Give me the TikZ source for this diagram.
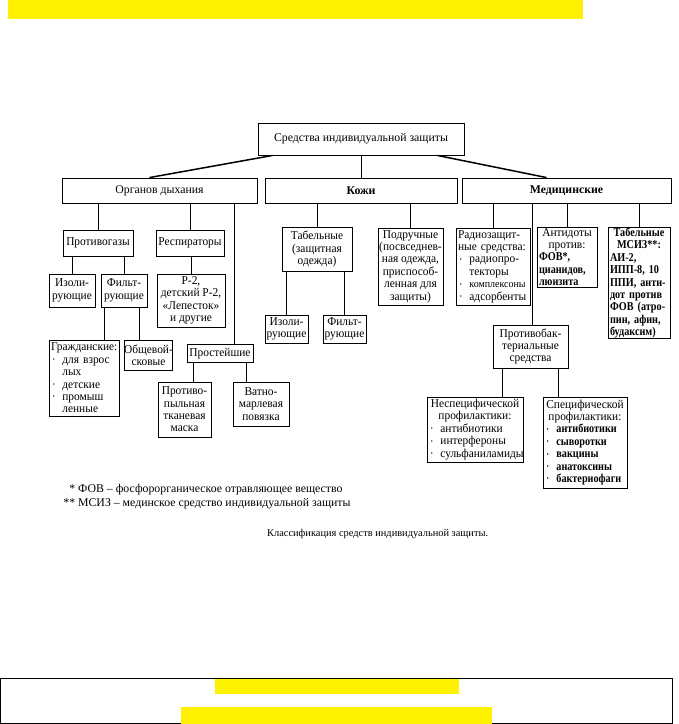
\documentclass[tikz,border=0pt]{standalone}
\usepackage{fontspec}
\setmainfont{Liberation Serif}
\newfontfamily\boxfont{Liberation Serif}[FakeStretch=0.95]
\newfontfamily\condfont{Liberation Serif}[FakeStretch=0.85]
\usetikzlibrary{positioning}
\newcommand{\boxtext}{\boxfont\fontsize{12}{12.4}\selectfont}
\newcommand{\ctr}[1]{\makebox[\linewidth]{#1}}
\newcommand{\bul}{\makebox[0.95em][l]{\hspace{.15em}\raisebox{.3ex}{\scalebox{.5}{\textbullet}}}}
\newcommand{\ind}{\hspace*{0.95em}}

\tikzset{
  box/.style 2 args={draw, line width=0.9pt, inner sep=0pt, align=center, minimum width=#1, minimum height=#2, font=\boxtext},
  lbox/.style 2 args={draw, line width=0.9pt, inner xsep=2pt, inner ysep=0pt, align=left, text width=#1, minimum height=#2, font=\boxtext},
  head/.style 2 args={box={#1}{#2}, font=\fontsize{11.8}{13}\selectfont},
  link/.style={line width=0.9pt},
  slant/.style={line width=1.5pt},
  note/.style={anchor=base west, inner sep=0pt, font=\fontsize{11.8}{13}\selectfont}
}

\begin{document}
\begin{tikzpicture}[x=1pt, y=-1pt]
    \useasboundingbox (0,0) rectangle (679,724);
    \fill[yellow] (8,0) rectangle (583,19);

    \node[head={206pt}{32pt}] at (361,139) (SIZ) {Средства индивидуальной защиты};
    \node[head={195pt}{25pt}] at (159.5,190.5) (ORG) {Органов дыхания};
    \node[head={192pt}{25pt}] at (361,190.5) (KOZ) {\bfseries Кожи};
    \node[head={209pt}{25pt}] at (566.5,190.5) (MED) {\bfseries Медицинские};

    \node[box={70pt}{26pt}] at (98,243) (PG) {Противогазы};
    \node[box={68pt}{26pt}] at (190,243) (RSP) {Респираторы};
    \node[box={46pt}{33pt}] at (72,290.5) (IZA) {Изоли-\\рующие};
    \node[box={46pt}{33pt}] at (124,290.5) (FLA) {Фильт-\\рующие};
    \node[box={68pt}{53pt}] at (191,300.5) (RP) {Р-2,\\детский Р-2,\\«Лепесток»\\и другие};
    \node[lbox={66pt}{76pt}] at (84,378) (GRZ) {Гражданские:\\\bul для~взрос\\\ind лых\\\bul детские\\\bul промыш\\\ind ленные};
    \node[box={45pt}{30pt}] at (148.5,355) (OBS) {Общевой-\\сковые};
    \node[box={66pt}{18pt}] at (220,353.5) (PRS) {Простейшие};
    \node[box={53pt}{55pt}] at (184.5,409.5) (PTM) {Противо-\\пыльная\\тканевая\\маска};
    \node[box={56pt}{44pt}] at (261,404) (VMP) {Ватно-\\марлевая\\повязка};

    \node[box={70pt}{44pt}] at (317,249) (TAB) {Табельные\\(защитная\\одежда)};
    \node[box={65pt}{77pt}] at (410.5,266.5) (POD) {Подручные\\(посвседнев-\\ная одежда,\\приспособ-\\ленная для\\защиты)};
    \node[box={43pt}{28pt}] at (286.5,329) (IZB) {Изоли-\\рующие};
    \node[box={43pt}{28pt}] at (344.5,329) (FLB) {Фильт-\\рующие};

    \node[lbox={70pt}{77pt}] at (493,266.5) (RAD) {Радиозащит-\\ные~средства:\\\bul радиопро-\\\ind текторы\\\bul {\fontsize{10.5}{12.4}\selectfont комплексоны}\\\bul адсорбенты};
    \node[lbox={56pt}{60pt}] at (567,257) (ANT) {\ctr{Антидоты}\\\ctr{против:}\\\condfont\bfseries ФОВ*,\\цианидов,\\люизита};
    \node[lbox={58pt}{111pt}] at (639,283) (MSZ) {\condfont\bfseries\ctr{Табельные}\\\ctr{МСИЗ**:}\\АИ-2,\\ИПП-8,~10\\ППИ,~анти-\\дот~против\\ФОВ~(атро-\\пин,~афин,\\будаксим)};
    \node[box={75pt}{43pt}] at (530.5,346.5) (ABK) {Противобак-\\териальные\\средства};
    \node[lbox={92pt}{65pt}] at (475,429.5) (NSP) {\ctr{Неспецифической}\\\ctr{профилактики:}\\\bul антибиотики\\\bul интерфероны\\\bul сульфаниламиды};
    \node[lbox={80pt}{91pt}] at (585,442.5) (SPC) {\ctr{Специфической}\\\ctr{профилактики:}\\\condfont\bfseries\bul антибиотики\\\bul сыворотки\\\bul вакцины\\\bul анатоксины\\\bul бактериофаги};

    \draw[slant] ([xshift=15]SIZ.south west) -- ([xshift=-10]ORG.north);
    \draw[link] (SIZ.south) -- (KOZ.north);
    \draw[slant] ([xshift=-27]SIZ.south east) -- ([xshift=-20]MED.north);

    \draw[link] (PG.north) -- (PG.north |- ORG.south);
    \draw[link] (RSP.north) -- (RSP.north |- ORG.south);
    \draw[link] ([xshift=14]PRS.north) -- ([xshift=14]PRS.north |- ORG.south);
    \draw[link] (IZA.north) -- (IZA.north |- PG.south);
    \draw[link] (FLA.north) -- (FLA.north |- PG.south);
    \draw[link] (RP.north) -- (RP.north |- RSP.south);
    \draw[link] ([xshift=4]FLA.south west) -- ([xshift=4]FLA.south west |- GRZ.north);
    \draw[link] ([xshift=-8]FLA.south east) -- ([xshift=-8]FLA.south east |- OBS.north);
    \draw[link] ([xshift=7]PRS.south west) -- ([xshift=7]PRS.south west |- PTM.north);
    \draw[link] ([xshift=-7]PRS.south east) -- ([xshift=-7]PRS.south east |- VMP.north);

    \draw[link] (TAB.north) -- (TAB.north |- KOZ.south);
    \draw[link] (POD.north) -- (POD.north |- KOZ.south);
    \draw[link] (IZB.north) -- (IZB.north |- TAB.south);
    \draw[link] (FLB.north) -- (FLB.north |- TAB.south);

    \draw[link] (RAD.north) -- (RAD.north |- MED.south);
    \draw[link] (ANT.north) -- (ANT.north |- MED.south);
    \draw[link] (MSZ.north) -- (MSZ.north |- MED.south);
    \draw[link] ([xshift=2]ABK.north) -- ([xshift=2]ABK.north |- MED.south);
    \draw[link] ([xshift=10]ABK.south west) -- ([xshift=10]ABK.south west |- NSP.north);
    \draw[link] ([xshift=-10]ABK.south east) -- ([xshift=-10]ABK.south east |- SPC.north);

    \node[note] at (65,492) (FNA) {\makebox[10pt][r]{*} ФОВ – фосфорорганическое отравляющее вещество};
    \node[note] at (65,506) (FNB) {\makebox[10pt][r]{**} МСИЗ – мединское средство индивидуальной защиты};
    \node[note, font=\fontsize{10.4}{12}\selectfont] at (267,536) (CAP) {Классификация средств индивидуальной защиты.};

    \draw[line width=1pt] (0.5,678) rectangle (672,723.5);
    \fill[yellow] (215,679) rectangle (459,694);
    \fill[yellow] (181,707) rectangle (492,724);
\end{tikzpicture}
\end{document}
